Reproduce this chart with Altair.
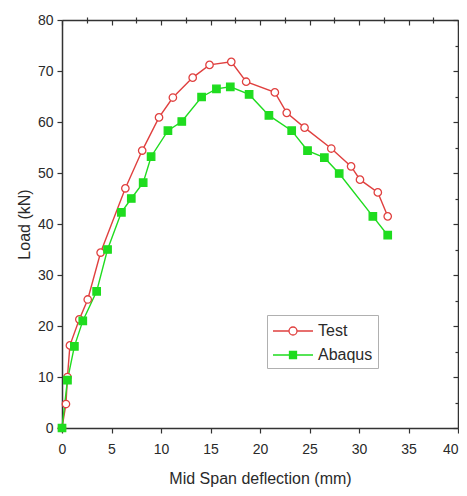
import altair as alt
import pandas as pd

# ---- data ----
test_x = [0, 0.4, 0.55, 0.8, 1.75, 2.6, 3.9, 6.4, 8.1, 9.8, 11.2, 13.2, 14.9, 17.1, 18.6, 21.5, 22.7, 24.5, 27.2, 29.2, 30.1, 31.9, 32.9]
test_y = [0, 4.7, 10.0, 16.2, 21.3, 25.2, 34.4, 47.0, 54.4, 60.9, 64.8, 68.7, 71.2, 71.8, 67.9, 65.8, 61.8, 58.9, 54.8, 51.3, 48.7, 46.2, 41.5]
abaqus_x = [0, 0.55, 1.25, 2.1, 3.5, 4.6, 6.0, 7.0, 8.2, 9.0, 10.7, 12.1, 14.1, 15.6, 17.0, 18.9, 20.9, 23.2, 24.8, 26.5, 28.0, 31.4, 32.9]
abaqus_y = [0, 9.4, 16.0, 21.0, 26.8, 35.0, 42.3, 45.0, 48.1, 53.2, 58.3, 60.1, 64.9, 66.5, 66.9, 65.4, 61.3, 58.3, 54.4, 53.0, 49.9, 41.5, 37.8]

series_names = ["Test", "Abaqus"]
x_major = [0, 5, 10, 15, 20, 25, 30, 35, 40]
x_minor = [2.5, 7.5, 12.5, 17.5, 22.5, 27.5, 32.5, 37.5]
y_major = [0, 10, 20, 30, 40, 50, 60, 70, 80]
y_minor = [5, 15, 25, 35, 45, 55, 65, 75]

rows = []
for i, (x, y) in enumerate(zip(test_x, test_y)):
    rows.append({"series": "Test", "x": x, "y": y, "i": i})
for i, (x, y) in enumerate(zip(abaqus_x, abaqus_y)):
    rows.append({"series": "Abaqus", "x": x, "y": y, "i": i})
df = pd.DataFrame(rows)

W, H = 396, 408
FONT = "Liberation Sans"
RED = "#e0403f"
GREEN = "#1fdc1f"
TXT = "#2a2a2a"

xs = alt.Scale(domain=[0, 40], nice=False, zero=False)
ys = alt.Scale(domain=[0, 80], nice=False, zero=False)
col = alt.Scale(domain=series_names, range=[RED, GREEN])
fillscale = alt.Scale(domain=series_names, range=["white", GREEN])

base = alt.Chart(df)

ax_common = dict(grid=False, domainColor="#333333", tickColor="#333333",
                 domainWidth=1.5, tickWidth=1.2)

lines = base.mark_line(strokeWidth=1.4).encode(
    x=alt.X("x:Q", scale=xs, axis=alt.Axis(values=x_major, title="Mid Span deflection (mm)",
            tickSize=5, labelPadding=9, titlePadding=14, labelFont=FONT, labelFontSize=14,
            labelColor=TXT, titleFont=FONT, titleFontSize=16, titleFontWeight="normal",
            titleColor=TXT, labelFlush=False,
            labelAlign={"condition": {"test": "datum.value >= 40", "value": "right"}, "value": "center"},
            **ax_common)),
    y=alt.Y("y:Q", scale=ys, axis=alt.Axis(values=y_major, title="Load (kN)",
            tickSize=5, labelPadding=4, titlePadding=5, labelFont=FONT, labelFontSize=14,
            labelColor=TXT, titleFont=FONT, titleFontSize=16, titleFontWeight="normal",
            titleColor=TXT, labelFlush=False, **ax_common)),
    color=alt.Color("series:N", scale=col, legend=None),
    detail="series:N",
    order="i:Q",
)

points = base.mark_point(filled=True, strokeWidth=1.3, opacity=1).encode(
    x=alt.X("x:Q", scale=xs, axis=alt.Axis(values=x_major, orient="bottom", offset=-H, labels=False,
            title=None, tickSize=5, **ax_common)),
    y=alt.Y("y:Q", scale=ys, axis=alt.Axis(values=y_major, orient="left", offset=-W, labels=False,
            title=None, tickSize=5, **ax_common)),
    shape=alt.Shape("series:N", scale=alt.Scale(domain=series_names, range=["circle", "square"]), legend=None),
    stroke=alt.Stroke("series:N", scale=col, legend=None),
    fill=alt.Fill("series:N", scale=fillscale, legend=None),
    size=alt.value(55),
)

minor1 = base.mark_point(opacity=0).encode(
    x=alt.X("x:Q", scale=xs, axis=alt.Axis(values=x_minor, labels=False, title=None, tickSize=3,
            domain=False, grid=False, tickColor="#333333", tickWidth=1.2)),
    y=alt.Y("y:Q", scale=ys, axis=alt.Axis(values=y_minor, labels=False, title=None, tickSize=3,
            domain=False, grid=False, tickColor="#333333", tickWidth=1.2)),
)

minor2 = base.mark_point(opacity=0).encode(
    x=alt.X("x:Q", scale=xs, axis=alt.Axis(values=x_minor, orient="bottom", offset=-H, labels=False,
            title=None, tickSize=3, domain=False, grid=False, tickColor="#333333", tickWidth=1.2)),
    y=alt.Y("y:Q", scale=ys, axis=alt.Axis(values=y_minor, orient="left", offset=-W, labels=False,
            title=None, tickSize=3, domain=False, grid=False, tickColor="#333333", tickWidth=1.2)),
)

# legend symbols: line with marker; path units are 10px (symbolSize 400)
test_sym = ("M-1,0 L0.6,0 M1.4,0 L3,0 "
            "M0.6,0 A0.4,0.4 0 1,0 1.4,0 A0.4,0.4 0 1,0 0.6,0 Z")
abq_sym = "M-1,0 L3,0 M0.65,-0.35 L1.35,-0.35 L1.35,0.35 L0.65,0.35 Z"

leg = alt.Legend(orient="none", legendX=205, legendY=295, title=None,
                 strokeColor="#b0b0b0", padding=5, symbolSize=400,
                 symbolOpacity=1, symbolStrokeWidth=1.3, labelFont=FONT,
                 labelFontSize=16, labelColor=TXT, rowPadding=5,
                 labelOffset=24, fillColor="white")

legend_layer = base.mark_point(opacity=0, filled=True).encode(
    x=alt.X("x:Q", scale=xs, axis=None),
    y=alt.Y("y:Q", scale=ys, axis=None),
    shape=alt.Shape("series:N", scale=alt.Scale(domain=series_names, range=[test_sym, abq_sym]), legend=leg),
    stroke=alt.Stroke("series:N", scale=col, legend=leg),
    fill=alt.Fill("series:N", scale=fillscale, legend=leg),
)

chart = alt.layer(lines, points, minor1, minor2, legend_layer).resolve_axis(
    x="independent", y="independent"
).resolve_scale(shape="independent", stroke="independent", fill="independent").properties(
    width=W, height=H,
    autosize=alt.AutoSizeParams(type="none"),
    padding={"left": 54, "top": 12, "right": 1, "bottom": 60},
).configure_view(stroke=None).configure(background="white")

chart.save("out.html", embed_options={"renderer": "svg", "actions": False})
